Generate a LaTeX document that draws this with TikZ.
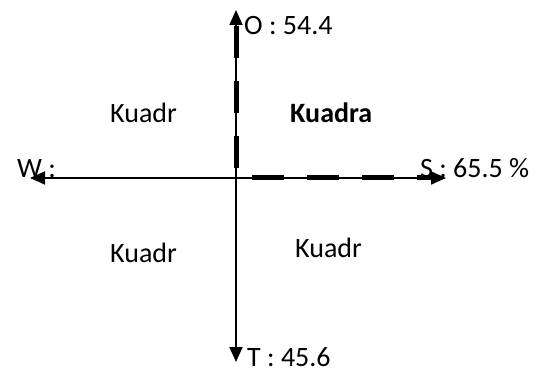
\documentclass[tikz,border=0pt]{standalone}
\usepackage{fontspec}
\setmainfont{Carlito}
\usepackage{tikz}
\usetikzlibrary{arrows.meta,positioning,calc}

\begin{document}
\begin{tikzpicture}[x=1pt,y=1pt,font=\fontsize{28}{31}\selectfont,
  axis/.style={line width=1.8pt,{Triangle[length=15pt,width=13pt]}-{Triangle[length=15pt,width=13pt]}},
  hilite/.style={line width=5pt,dash pattern=on 32pt off 23pt},
  lbl/.style={inner sep=0pt,anchor=base west}]
\useasboundingbox (0,0) rectangle (543,372);
% axes
\coordinate (o) at (236,194);
\coordinate (top) at (236,362);
\coordinate (bot) at (236,10);
\coordinate (lft) at (30,194);
\coordinate (rgt) at (446,194);
\draw[axis] (bot) -- (top);
\draw[axis] (lft) -- (rgt);
% thick dashed parts
\coordinate (vs) at (236,204);
\coordinate (ve) at (236,354);
\coordinate (hs) at (252,194);
\coordinate (he) at (438,194);
\draw[hilite] (vs) -- (ve);
\draw[hilite] (hs) -- (he);
% axis labels
\node[lbl] (lo) at (244,337) {O : 54.4};
\node[lbl] (lw) at (17,194) {W :};
\node[lbl] (ls) at (420,194) {S : 65.5 \%};
\node[lbl] (lt) at (247,6) {T : 45.6};
% quadrants
\node[lbl] (q2) at (110,249) {Kuadr};
\node[lbl,font=\fontsize{28}{31}\selectfont\bfseries] (q1) at (290,249) {Kuadra};
\node[lbl] (q3) at (110,109) {Kuadr};
\node[lbl] (q4) at (295,114) {Kuadr};
\end{tikzpicture}
\end{document}
